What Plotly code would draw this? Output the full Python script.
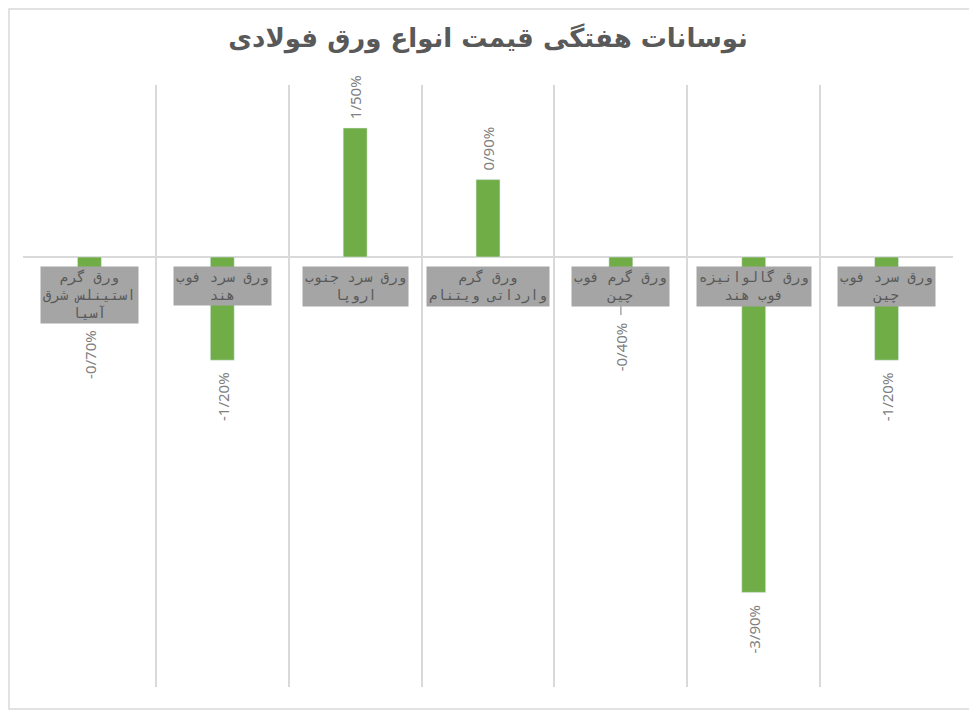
import plotly.graph_objects as go

# categories, right to left as in the original chart
categories = [
    "ورق سرد فوب چین",
    "ورق گالوانیزه فوب هند",
    "ورق گرم فوب چین",
    "ورق گرم وارداتی ویتنام",
    "ورق سرد جنوب اروپا",
    "ورق سرد فوب هند",
    "ورق گرم استینلس شرق آسیا",
]
category_labels = [
    "ورق سرد فوب<br>چین",
    "ورق گالوانیزه<br>فوب هند",
    "ورق گرم فوب<br>چین",
    "ورق گرم<br>وارداتی ویتنام",
    "ورق سرد جنوب<br>اروپا",
    "ورق سرد فوب<br>هند",
    "ورق گرم<br>استینلس شرق<br>آسیا",
]
changes = [-1.2, -3.9, -0.4, 0.9, 1.5, -1.2, -0.7]
value_labels = ["-1/20%", "-3/90%", "-0/40%", "0/90%", "1/50%", "-1/20%", "-0/70%"]

# page body adds ~8px offset, so the figure is a bit smaller than the window
W, H = 969, 702
L, R, T, B = 15, 24, 77, 23
y_range = [-5, 2]
ppu = (H - T - B) / (y_range[1] - y_range[0])  # pixels per unit

green = "#70AD47"
grid = "#D9D9D9"

fig = go.Figure()
fig.add_trace(go.Bar(x=categories, y=changes, marker_color=green,
                     width=0.18, showlegend=False))

# category name boxes sitting on the zero line
box_top, line_h = 9, 19
for cat, lab in zip(categories, category_labels):
    fig.add_annotation(x=cat, y=0, xref="x", yref="y", text=lab, showarrow=False,
                       yanchor="top", yshift=-box_top, bgcolor="#A5A5A5",
                       font=dict(family="DejaVu Sans Mono", size=14, color="#595959"),
                       borderpad=2)

# rotated value labels
for cat, lab, v, clab in zip(categories, value_labels, changes, category_labels):
    font = dict(family="Noto Sans", size=15, color="#808080")
    if v >= 0:
        fig.add_annotation(x=cat, y=v, xref="x", yref="y", text=lab, showarrow=False,
                           textangle=-90, yanchor="bottom", yshift=7, font=font)
        continue
    box_bottom = box_top + (clab.count("<br>") + 1) * line_h
    natural = -v * ppu + 10
    off = max(natural, box_bottom + 5)
    if off - natural > 5:
        # label pushed well away from the bar: add a leader line
        off = box_bottom + 16
        fig.add_shape(type="line", xref="x", yref="y", x0=cat, x1=cat,
                      y0=-box_bottom / ppu, y1=-(box_bottom + 11) / ppu,
                      line=dict(color="#A6A6A6", width=1.5))
    fig.add_annotation(x=cat, y=0, xref="x", yref="y", text=lab, showarrow=False,
                       textangle=-90, yanchor="top", yshift=-off, font=font)

# outer chart border
pw, ph = W - L - R, H - T - B
fig.add_shape(type="rect", xref="paper", yref="paper",
              x0=-(L - 1) / pw, x1=1 + (R - 1) / pw, y0=-(B - 1) / ph, y1=1 + (T - 1) / ph,
              line=dict(color=grid, width=1.5))

fig.update_layout(
    width=W, height=H,
    margin=dict(l=L, r=R, t=T, b=B),
    paper_bgcolor="white", plot_bgcolor="white",
    title=dict(text="<b>نوسانات هفتگی قیمت انواع ورق فولادی</b>", x=(488 - 8) / W, xanchor="center",
               y=1 - 30 / H, yanchor="middle",
               font=dict(family="DejaVu Sans", size=26, color="#595959")),
    bargap=0.82,
    xaxis=dict(autorange="reversed", tickson="boundaries", showgrid=True,
               gridcolor=grid, gridwidth=1.5, showticklabels=False, ticks="",
               showline=False, zeroline=False),
    yaxis=dict(range=y_range, showgrid=False, showticklabels=False, ticks="",
               zeroline=True, zerolinecolor=grid, zerolinewidth=2, showline=False),
)

fig.write_html("out.html")
